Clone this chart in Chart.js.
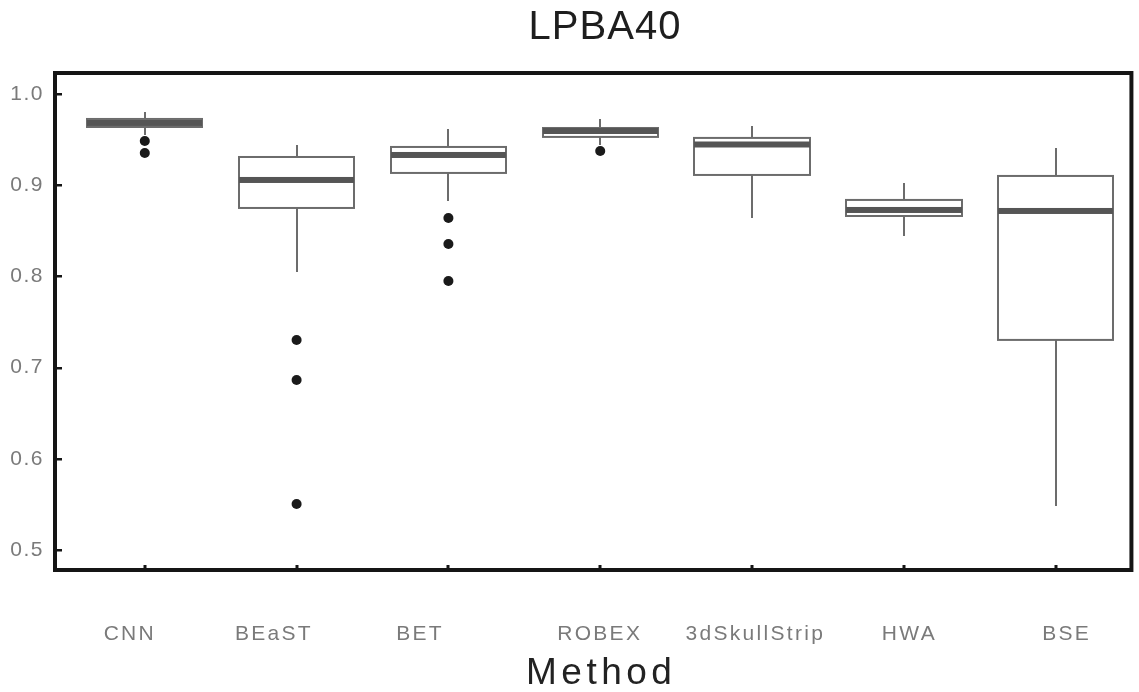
<!DOCTYPE html>
<html>
<head>
<meta charset="utf-8">
<script src="https://cdn.jsdelivr.net/npm/chart.js@4/dist/chart.umd.min.js"></script>
<style>html,body{margin:0;padding:0;background:#fff}canvas{display:block}</style>
</head>
<body>
<canvas id="c" width="1139" height="692"></canvas>
<script>
// ---- data ----
const categories  = ['CNN', 'BEaST', 'BET', 'ROBEX', '3dSkullStrip', 'HWA', 'BSE'];
const whiskerLow  = [0.955, 0.8048, 0.8827, 0.9441, 0.864, 0.8443, 0.5482];
const q1          = [0.9638, 0.875, 0.9134, 0.9529, 0.9112, 0.8662, 0.7303];
const median      = [0.9682, 0.9057, 0.9331, 0.9594, 0.9446, 0.8728, 0.8717];
const q3          = [0.9726, 0.9309, 0.9419, 0.9627, 0.9518, 0.8838, 0.9101];
const whiskerHigh = [0.9803, 0.9441, 0.9616, 0.9726, 0.9649, 0.9024, 0.9408];
const outliers    = [[0.9485, 0.9353], [0.7303, 0.6864, 0.5504], [0.864, 0.8355, 0.795], [0.9375], [], [], []];
const yTickValues = [0.5, 0.6, 0.7, 0.8, 0.9, 1.0];
const yTickLabels = ['0.5', '0.6', '0.7', '0.8', '0.9', '1.0'];

// ---- layout constants (not data) ----
const FONT = '"Liberation Sans", Arial, Helvetica, sans-serif';
const BOX_HALF = 0.38;
const LABEL_SHIFT = [-0.105, -0.156, -0.193, -0.01, 0.015, 0.03, 0.066];

const outlierPoints = [];
outliers.forEach((arr, i) => arr.forEach(v => outlierPoints.push({x: i, y: v})));

function wrap(obj, name, spacing, dx) {
  const key = '_wrapped_' + name;
  if (obj[key]) return;
  const orig = obj[name];
  obj[name] = function (...args) {
    const c = this.ctx || obj.ctx;
    c.save();
    c.letterSpacing = spacing;
    c.translate(dx, 0);
    const r = orig.apply(this, args);
    c.restore();
    return r;
  };
  obj[key] = true;
}

const textPlugin = {
  id: 'textSpacing',
  beforeDraw(chart) {
    if (chart.titleBlock) wrap(chart.titleBlock, 'draw', '1px', 38);
    wrap(chart.scales.x, 'drawLabels', '2.3px', 1);
    wrap(chart.scales.x, 'drawTitle', '4.5px', 8);
    wrap(chart.scales.y, 'drawLabels', '1.5px', 0);
  }
};

const boxPlugin = {
  id: 'boxes',
  beforeDatasetsDraw(chart) {
    const {ctx, scales: {x, y}} = chart;
    ctx.save();
    categories.forEach((c, i) => {
      const xc = Math.round(x.getPixelForValue(i));
      const xl = Math.round(x.getPixelForValue(i - BOX_HALF));
      const xr = Math.round(x.getPixelForValue(i + BOX_HALF));
      const yLo = y.getPixelForValue(whiskerLow[i]);
      const yHi = y.getPixelForValue(whiskerHigh[i]);
      const yQ1 = y.getPixelForValue(q1[i]);
      const yQ3 = y.getPixelForValue(q3[i]);
      const yMed = y.getPixelForValue(median[i]);
      ctx.strokeStyle = '#6c6c6c';
      ctx.lineWidth = 2;
      ctx.beginPath();
      ctx.moveTo(xc, yHi); ctx.lineTo(xc, yQ3);
      ctx.moveTo(xc, yQ1); ctx.lineTo(xc, yLo);
      ctx.stroke();
      ctx.fillStyle = '#ffffff';
      ctx.fillRect(xl, yQ3, xr - xl, yQ1 - yQ3);
      ctx.strokeRect(xl, yQ3, xr - xl, yQ1 - yQ3);
      ctx.fillStyle = '#555555';
      ctx.fillRect(xl, yMed - 3, xr - xl, 6);
    });
    ctx.restore();
  }
};

const framePlugin = {
  id: 'frame',
  afterDraw(chart) {
    const {ctx, chartArea: a, scales: {x, y}} = chart;
    ctx.save();
    ctx.fillStyle = '#151515';
    yTickValues.forEach(v => {
      const py = Math.round(y.getPixelForValue(v));
      ctx.fillRect(a.left, py - 1, 7, 2.5);
    });
    categories.forEach((c, i) => {
      const px = Math.round(x.getPixelForValue(i));
      ctx.fillRect(px - 1.5, a.bottom - 5, 3, 5);
    });
    ctx.strokeStyle = '#151515';
    ctx.lineWidth = 4;
    ctx.strokeRect(a.left, a.top, a.right - a.left, a.bottom - a.top);
    ctx.restore();
  }
};

new Chart(document.getElementById('c'), {
  type: 'scatter',
  data: {
    datasets: [{
      label: 'outliers',
      data: outlierPoints,
      pointRadius: 5,
      pointHoverRadius: 5,
      pointBackgroundColor: '#1a1a1a',
      pointBorderColor: '#1a1a1a',
      pointBorderWidth: 0,
      showLine: false
    }]
  },
  options: {
    responsive: false,
    animation: false,
    events: [],
    layout: {padding: {left: 0, right: 5, top: 0, bottom: 0}},
    plugins: {
      legend: {display: false},
      tooltip: {enabled: false},
      title: {
        display: true,
        text: 'LPBA40',
        color: '#1e1e1e',
        font: {family: FONT, size: 40, weight: 'normal', lineHeight: 1},
        padding: {top: 8, bottom: 25}
      }
    },
    scales: {
      x: {
        type: 'linear',
        min: -0.5914,
        max: 6.499,
        grid: {display: false, drawTicks: false},
        border: {display: false},
        afterBuildTicks(s) { s.ticks = categories.map((c, i) => ({value: i + LABEL_SHIFT[i]})); },
        afterFit(s) { s.height = 122; },
        ticks: {
          padding: 52,
          color: '#7a7a7a',
          font: {family: FONT, size: 21},
          maxRotation: 0,
          autoSkip: false,
          callback: (v, i) => categories[i]
        },
        title: {
          display: true,
          text: 'Method',
          color: '#222222',
          font: {family: FONT, size: 37, lineHeight: 1},
          padding: {top: 0, bottom: 0}
        }
      },
      y: {
        min: 0.478,
        max: 1.023,
        grid: {display: false, drawTicks: false},
        border: {display: false},
        afterBuildTicks(s) { s.ticks = yTickValues.map(v => ({value: v})); },
        afterFit(s) { s.width = 55; },
        ticks: {
          padding: 11,
          color: '#7a7a7a',
          font: {family: FONT, size: 21},
          callback: (v, i) => yTickLabels[i]
        }
      }
    }
  },
  plugins: [textPlugin, boxPlugin, framePlugin]
});
</script>
</body>
</html>
